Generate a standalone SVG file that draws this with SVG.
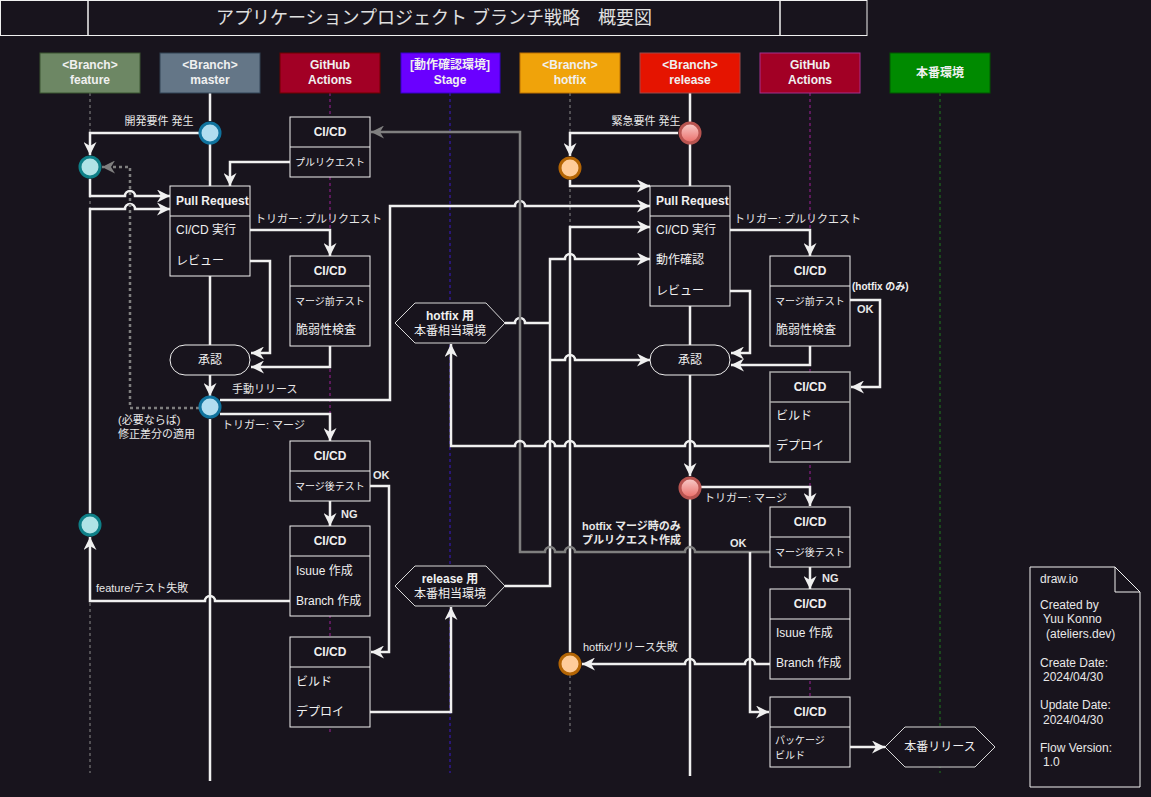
<svg xmlns="http://www.w3.org/2000/svg" width="1151" height="797" viewBox="0 0 1151 797">
<style>
.t{font-family:'Liberation Sans','Noto Sans CJK JP',sans-serif;fill:#f0f0f0;font-size:12px;dominant-baseline:central}
.b{font-weight:bold}
.s{font-size:10px}
.l{font-size:11px;fill:#e8e8e8}
.n{font-size:12px;fill:#e8e8e8}
.m{text-anchor:middle}
.box{fill:#18141d;stroke:#f0f0f0;stroke-width:1}
.sep{stroke:#f0f0f0;stroke-width:1}
.e{fill:none;stroke:#f0f0f0;stroke-width:2.5}
.g{fill:none;stroke:#7f7f7f;stroke-width:2.5}
.ll{fill:none;stroke-width:1;stroke-dasharray:3 3}
.main{fill:none;stroke:#f0f0f0;stroke-width:2.5}
</style>
<defs>
<marker id="aw" markerUnits="userSpaceOnUse" markerWidth="14" markerHeight="13" refX="13" refY="6.5" orient="auto"><path d="M0,0 L13,6.5 L0,13 L4,6.5 Z" fill="#f0f0f0"/></marker>
<marker id="ag" markerUnits="userSpaceOnUse" markerWidth="14" markerHeight="13" refX="13" refY="6.5" orient="auto"><path d="M0,0 L13,6.5 L0,13 L4,6.5 Z" fill="#7f7f7f"/></marker>
<linearGradient id="rg" x1="0" y1="0" x2="0" y2="1"><stop offset="0" stop-color="#f8cecc"/><stop offset="1" stop-color="#ea6b66"/></linearGradient>
</defs>
<rect x="0" y="0" width="1151" height="797" fill="#18141d"/>

<g id="title">
<rect x="0.5" y="0.5" width="87.5" height="35" fill="none" stroke="#f0f0f0"/>
<rect x="88" y="0.5" width="692" height="35" fill="none" stroke="#f0f0f0"/>
<rect x="780" y="0.5" width="87" height="35" fill="none" stroke="#f0f0f0"/>
<text class="t m" x="434" y="18" style="font-size:18px;fill:#e0e0e0">アプリケーションプロジェクト ブランチ戦略　概要図</text>
</g>

<g id="lifelines">
<path class="ll" stroke="#8a8a8a" d="M90,93 V773"/>
<path class="ll" stroke="#a0209a" d="M330,93 V735"/>
<path class="ll" stroke="#3a1acc" d="M450,93 V773"/>
<path class="ll" stroke="#8a8a8a" d="M570,93 V735"/>
<path class="ll" stroke="#a0209a" d="M810,93 V735"/>
<path class="ll" stroke="#1f7a1f" d="M940,93 V773"/>
<path class="main" d="M210,93 V121 M210,144 V186 M210,419 V781"/>
<path class="main" d="M690,93 V122 M690,144 V186 M690,499 V776"/>
</g>

<g id="connectors">
<path class="e" d="M199,133 H90 V155" marker-end="url(#aw)"/>
<path class="e" d="M90,179 V196 H125 a5,5 0 0 1 10,0 H170" marker-end="url(#aw)"/>
<path class="e" d="M90,513 V209 H125 a5,5 0 0 1 10,0 H170" marker-end="url(#aw)"/>
<path class="e" d="M290,601 H215 a5,5 0 0 0 -10,0 H90 V537" marker-end="url(#aw)"/>
<path class="g" d="M199,408 H130 V167 H102" stroke-dasharray="3 3" marker-end="url(#ag)"/>
<path class="e" d="M290,162 H230 V186" marker-end="url(#aw)"/>
<path class="e" d="M250,230 H330 V256" marker-end="url(#aw)"/>
<path class="e" d="M250,261 H270 V353 H251" marker-end="url(#aw)"/>
<path class="e" d="M330,346 V367 H251" marker-end="url(#aw)"/>
<path class="e" d="M210,276 V345"/>
<path class="e" d="M210,375 V396" marker-end="url(#aw)"/>
<path class="e" d="M220,400 H390 V206 H515 a5,5 0 0 1 10,0 H650" marker-end="url(#aw)"/>
<path class="e" d="M220,414 H330 V441" marker-end="url(#aw)"/>
<path class="e" d="M370,486 H389 V652 H371" marker-end="url(#aw)"/>
<path class="e" d="M330,501 V526" marker-end="url(#aw)"/>
<path class="e" d="M370,712 H451 V607" marker-end="url(#aw)"/>
<path class="e" d="M505,586 H550 V259 H565 a5,5 0 0 1 10,0 H650" marker-end="url(#aw)"/>
<path class="e" d="M505,323 H515 a5,5 0 0 1 10,0 H550"/>
<path class="e" d="M550,360 H565 a5,5 0 0 1 10,0 H650" marker-end="url(#aw)"/>
<path class="e" d="M570,652 V227 H650" marker-end="url(#aw)"/>
<path class="e" d="M570,180 V186 H650" marker-end="url(#aw)"/>
<path class="e" d="M678,133 H570 V156" marker-end="url(#aw)"/>
<path class="g" d="M770,552 H695 a5,5 0 0 0 -10,0 H575 a5,5 0 0 0 -10,0 H555 a5,5 0 0 0 -10,0 H520 V132 H371" marker-end="url(#ag)"/>
<path class="e" d="M750,552 V712 H769" marker-end="url(#aw)"/>
<path class="e" d="M730,230 H810 V256" marker-end="url(#aw)"/>
<path class="e" d="M730,291 H750 V353 H731" marker-end="url(#aw)"/>
<path class="e" d="M810,346 V365 H731" marker-end="url(#aw)"/>
<path class="e" d="M850,300 H880 V387 H851" marker-end="url(#aw)"/>
<path class="e" d="M690,306 V345"/>
<path class="e" d="M690,375 V476" marker-end="url(#aw)"/>
<path class="e" d="M770,446 H695 a5,5 0 0 0 -10,0 H575 a5,5 0 0 0 -10,0 H555 a5,5 0 0 0 -10,0 H525 a5,5 0 0 0 -10,0 H451 V344" marker-end="url(#aw)"/>
<path class="e" d="M701,487 H810 V506" marker-end="url(#aw)"/>
<path class="e" d="M810,567 V589" marker-end="url(#aw)"/>
<path class="e" d="M770,664 H755 a5,5 0 0 0 -10,0 H695 a5,5 0 0 0 -10,0 H582" marker-end="url(#aw)"/>
<path class="e" d="M850,747 H885" marker-end="url(#aw)"/>
<g id="edge-labels">
<text class="t l m" x="159" y="121">開発要件 発生</text>
<text class="t l m" x="646" y="121">緊急要件 発生</text>
<text class="t l" x="255" y="219">トリガー: プルリクエスト</text>
<text class="t l" x="734" y="219">トリガー: プルリクエスト</text>
<text class="t l" x="232" y="389">手動リリース</text>
<text class="t l" x="118" y="420">(必要ならば)</text>
<text class="t l" x="118" y="434">修正差分の適用</text>
<text class="t l" x="222" y="425">トリガー: マージ</text>
<text class="t l" x="704" y="498">トリガー: マージ</text>
<text class="t l b" x="373" y="475">OK</text>
<text class="t l b" x="341" y="514">NG</text>
<text class="t l b" x="822" y="578">NG</text>
<text class="t l b" x="730" y="543">OK</text>
<text class="t l" x="96" y="588">feature/テスト失敗</text>
<text class="t l b" x="582" y="526">hotfix マージ時のみ</text>
<text class="t l b" x="582" y="540">プルリクエスト作成</text>
<text class="t l" x="583" y="647">hotfix/リリース失敗</text>
<text class="t s b" x="852" y="286">(hotfix のみ)</text>
<text class="t l b" x="857" y="309">OK</text>
</g>
</g>

<g id="h-feature"><rect x="40" y="53" width="100" height="40" fill="#6d8764" stroke="#3a5431"/><text class="t b m" x="90" y="65">&lt;Branch&gt;</text><text class="t b m" x="90" y="80">feature</text></g>
<g id="h-master"><rect x="160" y="53" width="100" height="40" fill="#647687" stroke="#314354"/><text class="t b m" x="210" y="65">&lt;Branch&gt;</text><text class="t b m" x="210" y="80">master</text></g>
<g id="h-gha1"><rect x="280" y="53" width="100" height="40" fill="#a20025" stroke="#6f0000"/><text class="t b m" x="330" y="65">GitHub</text><text class="t b m" x="330" y="80">Actions</text></g>
<g id="h-stage"><rect x="401" y="53" width="99" height="40" fill="#6a00ff" stroke="#3700cc"/><text class="t b m" x="450" y="65">[動作確認環境]</text><text class="t b m" x="450" y="80">Stage</text></g>
<g id="h-hotfix"><rect x="520" y="53" width="100" height="40" fill="#f0a30a" stroke="#bd7000"/><text class="t b m" x="570" y="65">&lt;Branch&gt;</text><text class="t b m" x="570" y="80">hotfix</text></g>
<g id="h-release"><rect x="640" y="53" width="100" height="40" fill="#e51400" stroke="#9a4a4a"/><text class="t b m" x="690" y="65">&lt;Branch&gt;</text><text class="t b m" x="690" y="80">release</text></g>
<g id="h-gha2"><rect x="760" y="53" width="100" height="40" fill="#a20025" stroke="#a3318f"/><text class="t b m" x="810" y="65">GitHub</text><text class="t b m" x="810" y="80">Actions</text></g>
<g id="h-prod"><rect x="890" y="53" width="100" height="40" fill="#008a00" stroke="#005700"/><text class="t b m" x="940" y="73">本番環境</text></g>

<g id="c-master-1"><circle cx="210" cy="133" r="10" fill="#b1ddf0" stroke="#10739e" stroke-width="3"/></g>
<g id="c-feature-1"><circle cx="90" cy="167" r="10" fill="#b0e3e6" stroke="#0e8088" stroke-width="3"/></g>
<g id="c-feature-2"><circle cx="90" cy="525" r="10" fill="#b0e3e6" stroke="#0e8088" stroke-width="3"/></g>
<g id="c-master-2"><circle cx="210" cy="407" r="10" fill="#b1ddf0" stroke="#10739e" stroke-width="3"/></g>
<g id="c-release-1"><circle cx="690" cy="133" r="10" fill="url(#rg)" stroke="#b85450" stroke-width="3"/></g>
<g id="c-hotfix-1"><circle cx="570" cy="168" r="10" fill="#ffcc99" stroke="#b46504" stroke-width="3"/></g>
<g id="c-release-2"><circle cx="690" cy="488" r="10" fill="url(#rg)" stroke="#b85450" stroke-width="3"/></g>
<g id="c-hotfix-2"><circle cx="570" cy="664" r="10" fill="#ffcc99" stroke="#b46504" stroke-width="3"/></g>

<g id="pr-master"><rect class="box" x="170" y="186" width="80" height="90"/><line class="sep" x1="170" y1="216" x2="250" y2="216"/><text class="t b" x="176" y="201">Pull Request</text><text class="t" x="176" y="230">CI/CD 実行</text><text class="t" x="176" y="261">レビュー</text></g>
<g id="approve-master"><rect class="box" x="170" y="345" width="80" height="30" rx="15"/><text class="t m" x="210" y="360">承認</text></g>
<g id="ci-pr"><rect class="box" x="290" y="117" width="80" height="60"/><line class="sep" x1="290" y1="147" x2="370" y2="147"/><text class="t b m" x="330" y="132">CI/CD</text><text class="t s" x="295" y="162">プルリクエスト</text></g>
<g id="ci-premerge-1"><rect class="box" x="290" y="256" width="80" height="90"/><line class="sep" x1="290" y1="286" x2="370" y2="286"/><text class="t b m" x="330" y="271">CI/CD</text><text class="t s" x="295" y="301">マージ前テスト</text><text class="t" x="296" y="330">脆弱性検査</text></g>
<g id="ci-postmerge-1"><rect class="box" x="290" y="441" width="80" height="60"/><line class="sep" x1="290" y1="471" x2="370" y2="471"/><text class="t b m" x="330" y="456">CI/CD</text><text class="t s" x="295" y="486">マージ後テスト</text></g>
<g id="ci-issue-1"><rect class="box" x="290" y="526" width="80" height="90"/><line class="sep" x1="290" y1="556" x2="370" y2="556"/><text class="t b m" x="330" y="541">CI/CD</text><text class="t" x="296" y="571">Isuue 作成</text><text class="t" x="296" y="601">Branch 作成</text></g>
<g id="ci-deploy-1"><rect class="box" x="290" y="637" width="80" height="90"/><line class="sep" x1="290" y1="667" x2="370" y2="667"/><text class="t b m" x="330" y="652">CI/CD</text><text class="t" x="296" y="682">ビルド</text><text class="t" x="296" y="712">デプロイ</text></g>
<g id="env-hotfix"><polygon points="395,323 415,303 486,303 505,323 486,343 415,343" fill="#18141d" stroke="#d8d8d8"/><text class="t b m" x="450" y="316">hotfix 用</text><text class="t m" x="450" y="331">本番相当環境</text></g>
<g id="env-release"><polygon points="395,586 415,566 486,566 505,586 486,606 415,606" fill="#18141d" stroke="#d8d8d8"/><text class="t b m" x="450" y="579">release 用</text><text class="t m" x="450" y="594">本番相当環境</text></g>
<g id="pr-release"><rect class="box" x="650" y="186" width="80" height="120"/><line class="sep" x1="650" y1="216" x2="730" y2="216"/><text class="t b" x="656" y="201">Pull Request</text><text class="t" x="656" y="230">CI/CD 実行</text><text class="t" x="656" y="260">動作確認</text><text class="t" x="656" y="291">レビュー</text></g>
<g id="approve-release"><rect class="box" x="650" y="345" width="80" height="30" rx="15"/><text class="t m" x="690" y="360">承認</text></g>
<g id="ci-premerge-2"><rect class="box" x="770" y="256" width="80" height="90"/><line class="sep" x1="770" y1="286" x2="850" y2="286"/><text class="t b m" x="810" y="271">CI/CD</text><text class="t s" x="775" y="301">マージ前テスト</text><text class="t" x="776" y="330">脆弱性検査</text></g>
<g id="ci-deploy-2"><rect x="770" y="372" width="80" height="90" fill="#18141d" stroke="#a8a8a8" stroke-width="1.5"/><line x1="770" y1="402" x2="850" y2="402" stroke="#a8a8a8" stroke-width="1.5"/><text class="t b m" x="810" y="387">CI/CD</text><text class="t" x="776" y="416">ビルド</text><text class="t" x="776" y="446">デプロイ</text></g>
<g id="ci-postmerge-2"><rect class="box" x="770" y="507" width="80" height="60"/><line class="sep" x1="770" y1="537" x2="850" y2="537"/><text class="t b m" x="810" y="522">CI/CD</text><text class="t s" x="775" y="552">マージ後テスト</text></g>
<g id="ci-issue-2"><rect class="box" x="770" y="589" width="80" height="90"/><line class="sep" x1="770" y1="619" x2="850" y2="619"/><text class="t b m" x="810" y="604">CI/CD</text><text class="t" x="776" y="633">Isuue 作成</text><text class="t" x="776" y="663">Branch 作成</text></g>
<g id="ci-package"><rect class="box" x="770" y="697" width="80" height="70"/><line class="sep" x1="770" y1="727" x2="850" y2="727"/><text class="t b m" x="810" y="712">CI/CD</text><text class="t s" x="775" y="740">パッケージ</text><text class="t s" x="775" y="755">ビルド</text></g>
<g id="prod-release"><polygon points="885,747 905,727 975,727 995,747 975,767 905,767" fill="#18141d" stroke="#d8d8d8"/><text class="t m" x="940" y="747">本番リリース</text></g>

<g id="note">
<path d="M1030,567 H1115 L1140,592 V787 H1030 Z" fill="#18141d" stroke="#f0f0f0"/>
<path d="M1115,567 V592 H1140" fill="none" stroke="#f0f0f0"/>
<text class="t n" x="1040" y="579">draw.io</text>
<text class="t n" x="1040" y="605">Created by</text>
<text class="t n" x="1043" y="619">Yuu Konno</text>
<text class="t n" x="1046" y="634">(ateliers.dev)</text>
<text class="t n" x="1040" y="663">Create Date:</text>
<text class="t n" x="1043" y="677">2024/04/30</text>
<text class="t n" x="1040" y="705">Update Date:</text>
<text class="t n" x="1043" y="720">2024/04/30</text>
<text class="t n" x="1040" y="748">Flow Version:</text>
<text class="t n" x="1043" y="762">1.0</text>
</g>
</svg>
